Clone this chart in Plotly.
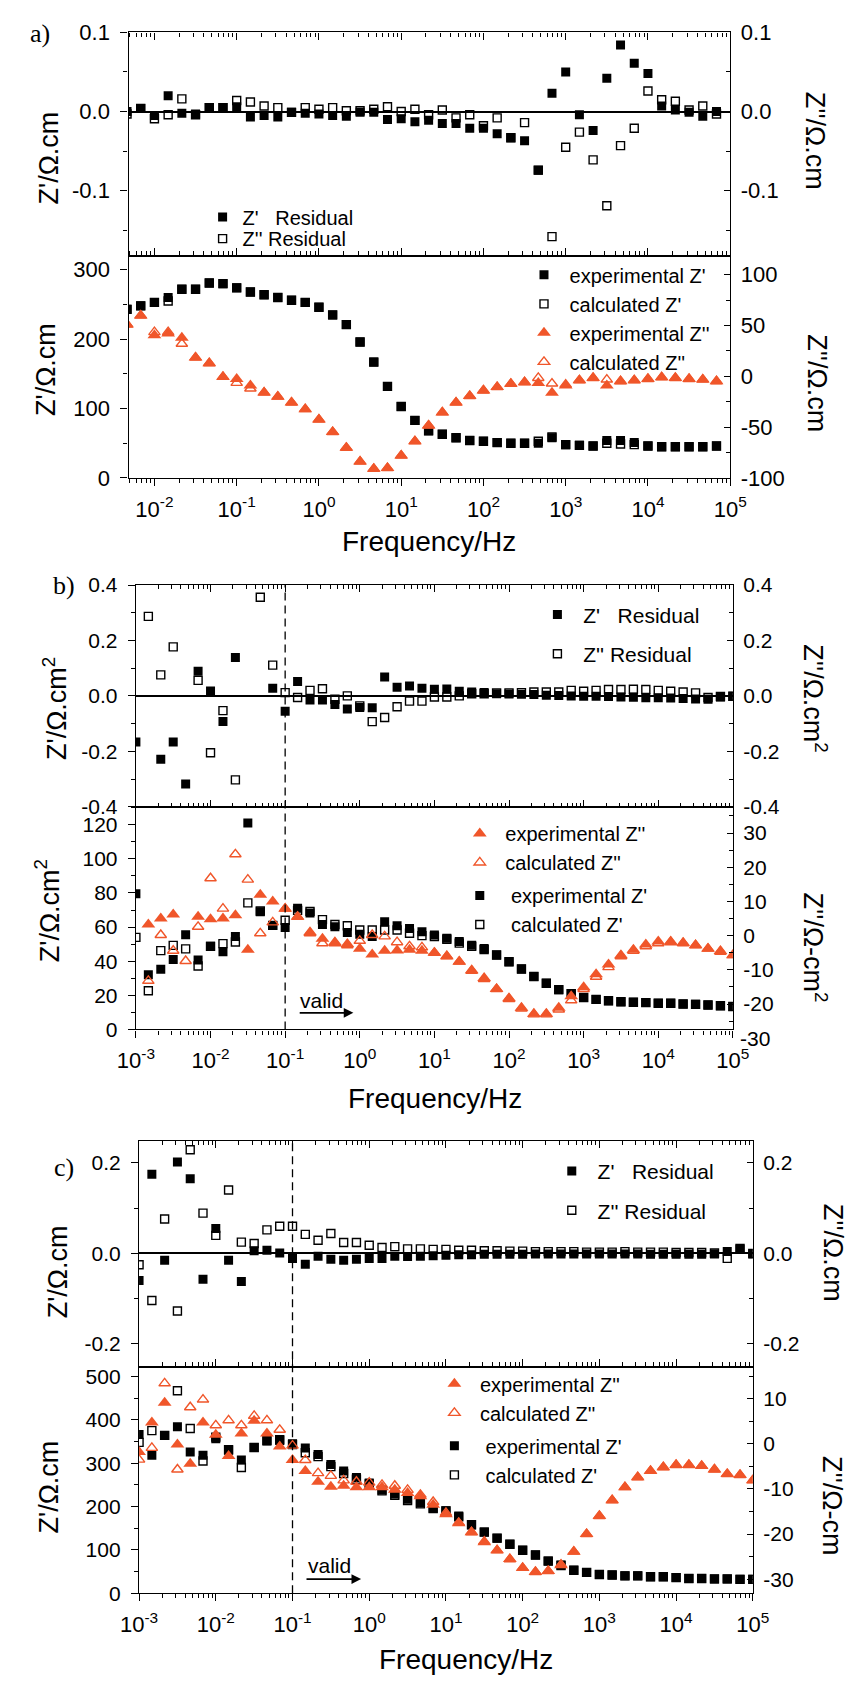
import numpy as np
import plotly.graph_objects as go

# ---------------- data ----------------
# frequencies (Hz), six points per decade
FREQ_A = [0.004642, 0.006813, 0.01, 0.01468, 0.02154, 0.03162, 0.04642, 0.06813,
          0.1, 0.1468, 0.2154, 0.3162, 0.4642, 0.6813,
          1, 1.468, 2.154, 3.162, 4.642, 6.813,
          10, 14.68, 21.54, 31.62, 46.42, 68.13,
          100, 146.8, 215.4, 316.2, 464.2, 681.3,
          1000, 1468, 2154, 3162, 4642, 6813,
          10000, 14680, 21540, 31620, 46420, 68130]

FREQ_BC = [0.001, 0.001468, 0.002154, 0.003162, 0.004642, 0.006813,
           0.01, 0.01468, 0.02154, 0.03162, 0.04642, 0.06813,
           0.1, 0.1468, 0.2154, 0.3162, 0.4642, 0.6813,
           1, 1.468, 2.154, 3.162, 4.642, 6.813,
           10, 14.68, 21.54, 31.62, 46.42, 68.13,
           100, 146.8, 215.4, 316.2, 464.2, 681.3,
           1000, 1468, 2154, 3162, 4642, 6813,
           10000, 14680, 21540, 31620, 46420, 68130,
           100000]

# panel a
A_RES_ZRE = [0.000, 0.004, -0.005, 0.020, -0.002, -0.003, 0.005, 0.005, 0.006, -0.007,
             -0.005, -0.007, -0.001, -0.002, -0.003, -0.005, -0.006, -0.001, -0.001, -0.010,
             -0.009, -0.013, -0.011, -0.015, -0.015, -0.021, -0.021, -0.028, -0.033, -0.037,
             -0.074, 0.023, 0.050, -0.004, -0.024, 0.042, 0.084, 0.061, 0.048, 0.007,
             0.002, -0.001, -0.006, 0.000]
A_RES_ZIM = [-0.003, 0.004, -0.009, -0.004, 0.016, -0.004, 0.005, 0.005, 0.014, 0.012,
             0.007, 0.005, -0.001, 0.005, 0.003, 0.005, 0.001, 0.001, 0.003, 0.006,
             0.000, 0.003, -0.004, 0.002, -0.008, -0.004, -0.018, -0.008, -0.033, -0.014,
             -0.074, -0.158, -0.045, -0.026, -0.061, -0.119, -0.043, -0.021, 0.026, 0.015,
             0.013, 0.002, 0.007, -0.003]
A_ZRE_EXP = [243, 248, 253, 260, 272, 272, 281, 280, 274, 268,
             264, 260, 256, 253, 246, 235, 221, 196, 167, 132,
             103, 83, 68, 63, 58, 54, 53, 51, 50, 50,
             50, 58, 48, 47, 46, 54, 54, 51, 46, 45,
             45, 45, 45, 46]
A_ZRE_CAL = [243, 248, 253, 255, 272, 272, 281, 280, 274, 268,
             264, 260, 256, 253, 246, 235, 221, 196, 167, 132,
             103, 83, 68, 63, 58, 54, 53, 51, 50, 50,
             53, 59, 48, 47, 46, 50, 49, 48, 46, 45,
             45, 45, 45, 46]
A_ZIM_EXP = [51, 59.7, 40.3, 42, 38, 18.4, 12.9, -0.6, -2.6, -9,
             -16, -20, -25.8, -32.3, -42.6, -54.8, -70.3, -83.9, -91, -90.3,
             -78, -63.9, -48.4, -35.5, -25.8, -19.4, -13.9, -10.6, -7.4, -5.8,
             -6.5, -16.1, -9, -3.9, -1.6, -9, -4.8, -3.9, -2.6, -1,
             -1.6, -2.6, -3.2, -4.8]
A_ZIM_CAL = [51, 59.7, 43.5, 43.5, 32, 18.4, 12.9, -0.6, -6.5, -12,
             -16, -20, -25.8, -32.3, -42.6, -54.8, -70.3, -83.9, -91, -90.3,
             -78, -63.9, -48.4, -35.5, -25.8, -19.4, -13.9, -10.6, -7.4, -5.8,
             -1.6, -7.1, -8.1, -3.9, -1.6, -3.2, -4.8, -3.9, -2.6, -1,
             -1.6, -2.6, -3.2, -4.8]

# panel b
B_RES_ZRE = [-0.166, None, -0.229, -0.166, -0.318, 0.089, 0.018, -0.092, 0.139, None,
             None, 0.028, -0.055, 0.052, -0.015, -0.015, -0.031, -0.047, -0.042, -0.043,
             0.068, 0.031, 0.036, 0.028, 0.024, 0.025, 0.017, 0.014, 0.012, 0.008,
             0.007, 0.006, 0.005, 0.002, 0.001, 0.000, -0.001, -0.001, -0.002, -0.004,
             -0.005, -0.007, -0.007, -0.008, -0.009, -0.011, -0.012, -0.004, -0.001]
B_RES_ZIM = [None, 0.287, 0.076, 0.177, None, 0.056, -0.205, -0.053, -0.303, None,
             0.356, 0.111, 0.012, -0.006, 0.020, 0.026, -0.012, 0.000, -0.036, -0.093,
             -0.078, -0.039, -0.019, -0.019, -0.004, -0.004, 0.000, 0.008, 0.008, 0.011,
             0.011, 0.012, 0.014, 0.014, 0.014, 0.020, 0.017, 0.020, 0.023, 0.023,
             0.024, 0.023, 0.020, 0.017, 0.014, 0.011, -0.006, -0.002, -0.001]
B_ZRE_EXP = [79.6, 32.0, 35.3, 41.0, 55.5, 40.7, 48.7, 45.5, 54.5, 121.0,
             69.0, 61.0, 59.8, 71.1, 68.2, 61.5, 60.2, 56.9, 55.8, 54.5,
             63.1, 60.8, 59.2, 57.3, 55.4, 53.5, 51.6, 49.3, 47.4, 43.6,
             39.7, 35.4, 31.0, 27.1, 23.3, 21.0, 18.7, 17.6, 16.8, 16.2,
             15.9, 15.7, 15.3, 15.3, 14.9, 14.7, 14.3, 13.9, 13.4]
B_ZRE_CAL = [54.0, 22.7, 46.2, 49.3, 47.2, 37.2, 48.7, 50.3, 51.3, 74.2,
             69.4, 61.0, 64.0, 69.8, 69.2, 64.4, 61.5, 60.8, 58.3, 58.3,
             58.3, 58.3, 56.4, 55.0, 54.5, 52.9, 50.6, 48.7, 46.8, 43.6,
             39.7, 35.4, 31.0, 27.1, 23.3, 21.0, 18.7, 17.6, 16.8, 16.2,
             15.9, 15.7, 15.3, 15.3, 14.9, 14.7, 14.3, 13.9, 13.4]
B_ZIM_EXP = [None, 3.3, 5.0, 6.2, None, 5.5, 4.8, 5.0, 6.0, -4.1,
             12.0, 10.0, 7.9, 5.5, 1.0, -0.9, -1.9, -2.4, -3.8, -5.5,
             -4.4, -4.3, -4.1, -4.4, -5.0, -6.0, -7.6, -10.1, -12.4, -15.6,
             -18.3, -21.1, -22.8, -22.8, -21.1, -17.7, -15.1, -11.3, -8.4, -5.7,
             -4.1, -2.6, -1.7, -1.7, -2.1, -2.8, -3.8, -4.5, -5.7]
B_ZIM_CAL = [None, -13.2, 0.2, -4.4, -7.4, 2.6, 16.8, 7.9, 23.8, 16.4,
             0.7, 3.9, 7.9, 5.5, 0.7, -2.2, -2.2, -2.8, -1.5, 0.2,
             -0.2, -1.9, -3.1, -3.4, -5.0, -6.0, -7.6, -10.3, -12.7, -15.6,
             -18.5, -21.3, -23.0, -23.0, -21.6, -18.9, -15.6, -12.0, -9.2, -6.0,
             -4.4, -3.1, -2.2, -1.9, -2.2, -2.8, -3.8, -4.7, -5.7]

# panel c
C_RES_ZRE = [-0.060, 0.175, -0.015, 0.202, 0.165, -0.057, 0.055, -0.015, -0.062, 0.006,
             0.007, 0.001, -0.011, -0.024, -0.006, -0.013, -0.015, -0.013, -0.011, -0.011,
             -0.006, -0.007, -0.006, -0.005, -0.004, -0.003, -0.003, -0.002, -0.002, -0.002,
             -0.002, -0.001, -0.001, -0.001, -0.001, -0.001, -0.001, -0.001, -0.001, -0.001,
             -0.002, -0.002, -0.002, -0.002, -0.002, -0.001, 0.004, 0.009, -0.001]
C_RES_ZIM = [-0.025, -0.104, 0.076, -0.127, 0.229, 0.089, 0.040, 0.140, 0.025, 0.022,
             0.052, 0.060, 0.060, 0.042, 0.029, 0.044, 0.024, 0.024, 0.018, 0.013,
             0.015, 0.010, 0.010, 0.009, 0.009, 0.007, 0.007, 0.006, 0.006, 0.005,
             0.005, 0.004, 0.004, 0.004, 0.004, 0.003, 0.003, 0.003, 0.004, 0.003,
             0.003, 0.003, 0.002, 0.002, 0.002, 0.001, -0.011, 0.011, 0.000]
C_ZRE_EXP = [366, 318, 364, 384, 326, 318, 356, 330, 307, 336,
             351, 352, 345, 335, 320, 297, 282, 267, 254, 238,
             229, 217, 208, 196, 190, 178, 158, 141, 127, 113,
             99, 88, 74, 65, 53, 48, 43, 42, 40, 40,
             38, 38, 36, 34, 34, 33, 33, 32, 32]
C_ZRE_CAL = [348, 375, 364, 467, 380, 305, 360, 331, 290, 336,
             352, 354, 343, 324, 315, 292, 276, 263, 252, 236,
             226, 214, 206, 195, 190, 176, 158, 141, 127, 113,
             99, 88, 74, 64, 53, 48, 43, 42, 40, 40,
             38, 38, 36, 34, 34, 33, 33, 32, 32]
C_ZIM_EXP = [-1.8, 4.7, 9.1, -0.15, -4.4, 4.7, 2.0, -2.7, 2.3, 5.1,
             2.3, -0.6, -3.6, -6.0, -8.4, -9.5, -9.3, -9.6, -9.6, -9.6,
             -10.2, -10.9, -11.6, -13.5, -15.6, -17.6, -19.6, -21.8, -23.6, -25.5,
             -27.5, -28.4, -28.2, -26.9, -23.9, -20.0, -16.0, -12.5, -9.6, -7.4,
             -6.0, -5.2, -4.7, -4.7, -4.9, -5.7, -6.7, -6.9, -8.1]
C_ZIM_CAL = [-3.5, -0.9, 13.4, -5.7, 8.1, 9.8, 4.1, 5.2, 4.1, 6.2,
             5.2, 3.1, -0.4, -3.6, -6.5, -7.1, -8.1, -8.4, -8.6, -9.1,
             -9.3, -10.2, -11.3, -12.9, -15.3, -17.5, -19.6, -21.7, -23.6, -25.6,
             -27.5, -28.4, -28.2, -26.8, -23.9, -20.0, -16.0, -12.5, -9.6, -7.4,
             -6.0, -5.2, -4.7, -4.7, -4.9, -5.7, -6.7, -6.9, -8.1]

# tick labels
DECADES_A = [1e-2, 1e-1, 1, 10, 100, 1e3, 1e4, 1e5]
DECADES_BC = [1e-3, 1e-2, 1e-1, 1, 10, 100, 1e3, 1e4, 1e5]
EXP_LABELS_A = ["10<sup>-2</sup>", "10<sup>-1</sup>", "10<sup>0</sup>", "10<sup>1</sup>",
                "10<sup>2</sup>", "10<sup>3</sup>", "10<sup>4</sup>", "10<sup>5</sup>"]
EXP_LABELS_BC = ["10<sup>-3</sup>"] + EXP_LABELS_A
VALID_FROM_HZ = 0.1

# ---------------- geometry / style ----------------
W, H = 862, 1686
ORANGE = "#F0562A"
SANS = "Liberation Sans, Arial, sans-serif"
SERIF = "Liberation Serif, Times New Roman, serif"


def xdom(px0, px1):
    return [px0 / W, px1 / W]


def ydom(top, bottom):
    return [1 - bottom / H, 1 - top / H]


def px_x(px):
    return px / W


def px_y(px):
    return 1 - px / H


# plot areas in pixels
PANELS = {
    "a": dict(x=(114.3, 742.2), top=(20.7, 247.3), bot=(247.3, 473.0),
              xrange=[-2.315, 5], dec=DECADES_A, lab=EXP_LABELS_A),
    "b": dict(x=(122.0, 745.0), top=(581.7, 806.7), bot=(806.7, 1032.7),
              xrange=[-3, 5], dec=DECADES_BC, lab=EXP_LABELS_BC),
    "c": dict(x=(125.3, 765.8), top=(1145.7, 1375.0), bot=(1375.0, 1605.0),
              xrange=[-3, 5], dec=DECADES_BC, lab=EXP_LABELS_BC),
}

MARK = {
    "exp_sq": dict(symbol="square", size=9, color="black"),
    "cal_sq": dict(symbol="square-open", size=8, color="black", line=dict(width=1.4, color="black")),
    "exp_tri": dict(symbol="triangle-up", size=12, color=ORANGE),
    "cal_tri": dict(symbol="triangle-up-open", size=10, color=ORANGE, line=dict(width=1.4, color=ORANGE)),
}

fig = go.Figure()


def add(x, y, xa, ya, kind, name, legend, group, rank):
    fig.add_trace(go.Scatter(
        x=x, y=y, xaxis=xa, yaxis=ya, mode="markers", marker=MARK[kind], name=name,
        legend=legend, legendgroup=group, legendrank=rank, showlegend=True))


SP = "\u00a0"
RES1 = "Z'" + SP * 3 + "Residual"
RES2 = "Z''" + SP + "Residual"

# panel a
add(FREQ_A, A_RES_ZRE, "x", "y", "exp_sq", RES1, "legend", "a1", 1)
add(FREQ_A, A_RES_ZIM, "x", "y2", "cal_sq", RES2, "legend7", "a2", 2)
add(FREQ_A, A_ZRE_EXP, "x2", "y3", "exp_sq", SP + "experimental Z'", "legend2", "a3", 1)
add(FREQ_A, A_ZRE_CAL, "x2", "y3", "cal_sq", SP + "calculated Z'", "legend2", "a3", 2)
add(FREQ_A, A_ZIM_EXP, "x2", "y4", "exp_tri", SP + "experimental Z''", "legend2", "a3", 3)
add(FREQ_A, A_ZIM_CAL, "x2", "y4", "cal_tri", SP + "calculated Z''", "legend2", "a3", 4)

# panel b
add(FREQ_BC, B_RES_ZRE, "x3", "y5", "exp_sq", SP + RES1, "legend3", "b1", 1)
add(FREQ_BC, B_RES_ZIM, "x3", "y6", "cal_sq", SP + RES2, "legend3", "b2", 2)
add(FREQ_BC, B_ZRE_EXP, "x4", "y7", "exp_sq", SP * 2 + "experimental Z'", "legend4", "b4", 3)
add(FREQ_BC, B_ZRE_CAL, "x4", "y7", "cal_sq", SP * 2 + "calculated Z'", "legend4", "b4", 4)
add(FREQ_BC, B_ZIM_EXP, "x4", "y8", "exp_tri", SP + "experimental Z''", "legend4", "b3", 1)
add(FREQ_BC, B_ZIM_CAL, "x4", "y8", "cal_tri", SP + "calculated Z''", "legend4", "b3", 2)

# panel c
add(FREQ_BC, C_RES_ZRE, "x5", "y9", "exp_sq", SP + RES1, "legend5", "c1", 1)
add(FREQ_BC, C_RES_ZIM, "x5", "y10", "cal_sq", SP + RES2, "legend5", "c2", 2)
add(FREQ_BC, C_ZRE_EXP, "x6", "y11", "exp_sq", SP * 2 + "experimental Z'", "legend6", "c4", 3)
add(FREQ_BC, C_ZRE_CAL, "x6", "y11", "cal_sq", SP * 2 + "calculated Z'", "legend6", "c4", 4)
add(FREQ_BC, C_ZIM_EXP, "x6", "y12", "exp_tri", SP + "experimental Z''", "legend6", "c3", 1)
add(FREQ_BC, C_ZIM_CAL, "x6", "y12", "cal_tri", SP + "calculated Z''", "legend6", "c3", 2)

# ---------------- axes ----------------
LINE = dict(showline=True, linecolor="black", linewidth=1.4, showgrid=False, zeroline=False)


def x_axis(p, anchor, bottom):
    lo, hi = int(np.floor(p["xrange"][0])), int(np.ceil(p["xrange"][1]))
    minor_vals = [m * 10.0 ** d for d in range(lo, hi) for m in range(2, 10)]
    side_ticks = "outside" if bottom else "inside"
    return dict(type="log", domain=xdom(*p["x"]), anchor=anchor, range=p["xrange"],
                tickmode="array", tickvals=p["dec"], ticktext=p["lab"],
                ticks=side_ticks, ticklen=7, tickwidth=1.3, tickcolor="black",
                minor=dict(tickmode="array", tickvals=minor_vals, ticks=side_ticks,
                           ticklen=4, tickwidth=1.1, tickcolor="black", showgrid=False),
                showticklabels=bottom, mirror=True if bottom else "ticks",
                tickfont=dict(size=22, family=SANS, color="black"), ticklabelstandoff=4,
                **LINE)


def y_axis(dom, anchor, rng, vals, texts, minor_dt, side, overlay=None, zero=False, fsize=21):
    left = side == "left"
    tk = "outside" if left else "inside"
    ax = dict(domain=dom, anchor=anchor, range=rng, side=side,
              tickmode="array", tickvals=vals, ticktext=texts,
              ticks=tk, ticklen=7 if left else 6, tickwidth=1.3, tickcolor="black",
              minor=dict(dtick=minor_dt, tick0=0, ticks=tk, ticklen=4, tickwidth=1.1,
                         tickcolor="black", showgrid=False),
              tickfont=dict(size=fsize, family=SANS, color="black"),
              ticklabelstandoff=6 if left else 5, **LINE)
    if overlay:
        ax["overlaying"] = overlay
    if zero:
        ax.update(zeroline=True, zerolinecolor="black", zerolinewidth=1.5)
    return ax


A, B, C = PANELS["a"], PANELS["b"], PANELS["c"]
A_BOT_L, A_BOT_R = [0, 320.4], [-100, 118.7]
B_BOT_L, B_BOT_R = [0, 130.6], [-27.4, 37.7]
C_BOT_L, C_BOT_R = [0, 522.7], [-33.1, 17.1]

layout_axes = dict(
    xaxis=x_axis(A, "y", False),
    xaxis2=x_axis(A, "y3", True),
    xaxis3=x_axis(B, "y5", False),
    xaxis4=x_axis(B, "y7", True),
    xaxis5=x_axis(C, "y9", False),
    xaxis6=x_axis(C, "y11", True),
    # panel a
    yaxis=y_axis(ydom(*A["top"]), "x", [-0.182, 0.1], [-0.1, 0, 0.1], ["-0.1", "0.0", "0.1"],
                 0.05, "left", zero=True, fsize=22),
    yaxis2=y_axis(ydom(*A["top"]), "x", [-0.182, 0.1], [-0.1, 0, 0.1], ["-0.1", "0.0", "0.1"],
                  0.05, "right", overlay="y", fsize=22),
    yaxis3=y_axis(ydom(*A["bot"]), "x2", A_BOT_L, [0, 100, 200, 300], ["0", "100", "200", "300"],
                  50, "left", fsize=22),
    yaxis4=y_axis(ydom(*A["bot"]), "x2", A_BOT_R, [-100, -50, 0, 50, 100],
                  ["-100", "-50", "0", "50", "100"], 25, "right", overlay="y3", fsize=22),
    # panel b
    yaxis5=y_axis(ydom(*B["top"]), "x3", [-0.4, 0.4], [-0.4, -0.2, 0, 0.2, 0.4],
                  ["-0.4", "-0.2", "0.0", "0.2", "0.4"], 0.1, "left", zero=True),
    yaxis6=y_axis(ydom(*B["top"]), "x3", [-0.4, 0.4], [-0.4, -0.2, 0, 0.2, 0.4],
                  ["-0.4", "-0.2", "0.0", "0.2", "0.4"], 0.1, "right", overlay="y5"),
    yaxis7=y_axis(ydom(*B["bot"]), "x4", B_BOT_L, [0, 20, 40, 60, 80, 100, 120],
                  ["0", "20", "40", "60", "80", "100", "120"], 10, "left"),
    yaxis8=y_axis(ydom(*B["bot"]), "x4", B_BOT_R, [-20, -10, 0, 10, 20, 30],
                  ["-20", "-10", "0", "10", "20", "30"], 5, "right", overlay="y7"),
    # panel c
    yaxis9=y_axis(ydom(*C["top"]), "x5", [-0.25, 0.249], [-0.2, 0, 0.2], ["-0.2", "0.0", "0.2"],
                  0.1, "left", zero=True),
    yaxis10=y_axis(ydom(*C["top"]), "x5", [-0.25, 0.249], [-0.2, 0, 0.2], ["-0.2", "0.0", "0.2"],
                   0.1, "right", overlay="y9"),
    yaxis11=y_axis(ydom(*C["bot"]), "x6", C_BOT_L, [0, 100, 200, 300, 400, 500],
                   ["0", "100", "200", "300", "400", "500"], 50, "left"),
    yaxis12=y_axis(ydom(*C["bot"]), "x6", C_BOT_R, [-30, -20, -10, 0, 10],
                   ["-30", "-20", "-10", "0", "10"], 5, "right", overlay="y11"),
)


def legend_box(marker_x, first_y, size=20, gap=0, single=False):
    # symbol centre sits 20 px right of the legend's left edge
    box = dict(x=px_x(marker_x - 20), xanchor="left",
               bgcolor="rgba(0,0,0,0)", borderwidth=0, font=dict(size=size, family=SANS, color="black"),
               traceorder="grouped", tracegroupgap=gap, itemclick=False, itemdoubleclick=False)
    if single:
        box.update(y=px_y(first_y), yanchor="middle")
    else:
        box.update(y=px_y(first_y - 19), yanchor="top")
    return box


fig.update_layout(
    width=W, height=H, margin=dict(l=0, r=0, t=0, b=0),
    paper_bgcolor="white", plot_bgcolor="white",
    font=dict(family=SANS, color="black"),
    legend=legend_box(211.6, 208, size=20, single=True),
    legend7=legend_box(211.6, 230, size=20, single=True),
    legend2=legend_box(547, 266, size=20),
    legend3=legend_box(561, 610, size=21, gap=9),
    legend4=legend_box(480, 833, size=20, gap=4),
    legend5=legend_box(576, 1175, size=21, gap=9),
    legend6=legend_box(453.5, 1391.7, size=20, gap=4),
    **layout_axes,
)

# ---------------- text: axis titles, panel letters ----------------
ann = []


def text(t, xpx, ypx, size, angle=0, family=SANS):
    ann.append(dict(text=t, x=px_x(xpx), y=px_y(ypx), xref="paper", yref="paper",
                    showarrow=False, textangle=angle, xanchor="center", yanchor="middle",
                    font=dict(size=size, family=family, color="black")))


ZRE = "Z'/\u03a9.cm"
ZIM = "Z''/\u03a9.cm"
text("a)", 22, 22, 26, family=SERIF)
text("b)", 46.7, 581.7, 26, family=SERIF)
text("c)", 46.7, 1173.3, 26, family=SERIF)

text(ZRE, 31, 148, 27, -90)
text(ZRE, 27.5, 363, 27, -90)
text(ZIM, 831, 131, 27, 90)
text(ZIM, 832, 377, 27, 90)

text(ZRE + "<sup>2</sup>", 37, 707, 27, -90)
text(ZRE + "<sup>2</sup>", 30, 912, 27, -90)
text(ZIM + "<sup>2</sup>", 831, 697, 27, 90)
text("Z''/\u03a9-cm<sup>2</sup>", 831, 950, 27, 90)

text(ZRE, 41, 1279, 27, -90)
text(ZRE, 31, 1497, 27, -90)
text(ZIM, 849, 1259, 27, 90)
text("Z''/\u03a9-cm", 849, 1516, 27, 90)

text("Frequency/Hz", 428, 537, 28)
text("Frequency/Hz", 434, 1103, 28)
text("Frequency/Hz", 466, 1672, 28)

# "-30" label on the right axis of panel b sits just below the axis end
b_dom = ydom(*B["bot"])
y_m30 = b_dom[0] + (-30 - B_BOT_R[0]) / (B_BOT_R[1] - B_BOT_R[0]) * (b_dom[1] - b_dom[0])
ann.append(dict(text="-30", x=px_x(B["x"][1] + 5), y=y_m30, xref="paper", yref="paper",
                showarrow=False, xanchor="left", yanchor="middle",
                font=dict(size=21, family=SANS, color="black")))

# "valid" arrows (frequencies above 0.1 Hz)
for xa, ya, (t0, t1, ty), (lx, ly) in [("x4", "y7", (-0.825, -0.086, 9.7), (-0.51, 17.2)),
                                        ("x6", "y11", (-0.837, -0.106, 32.5), (-0.522, 63.6))]:
    ann.append(dict(x=t1, y=ty, ax=t0, ay=ty, xref=xa, yref=ya, axref=xa, ayref=ya,
                    text="", showarrow=True, arrowhead=2, arrowsize=1.2, arrowwidth=1.6,
                    arrowcolor="black"))
    ann.append(dict(x=lx, y=ly, xref=xa, yref=ya, text="valid", showarrow=False,
                    font=dict(size=21, family=SANS, color="black")))

fig.update_layout(annotations=ann)

# dashed marker at 0.1 Hz through both plots of panels b and c
for p in (B, C):
    frac = (np.log10(VALID_FROM_HZ) - p["xrange"][0]) / (p["xrange"][1] - p["xrange"][0])
    xp = (p["x"][0] + frac * (p["x"][1] - p["x"][0])) / W
    fig.add_shape(type="line", xref="paper", yref="paper", x0=xp, x1=xp,
                  y0=ydom(*p["bot"])[0], y1=ydom(*p["top"])[1],
                  line=dict(color="black", width=1.3, dash="8px,5px"))

fig.write_html("out.html")
